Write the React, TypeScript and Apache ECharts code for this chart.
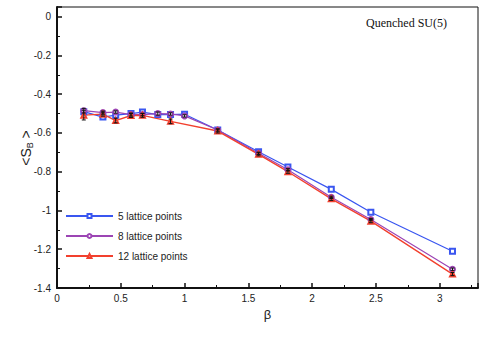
import React, { useEffect, useRef } from "react";
import * as echarts from "echarts";

const beta5 = [0.21, 0.36, 0.46, 0.58, 0.67, 0.79, 0.89, 1.0, 1.26, 1.58, 1.81, 2.15, 2.46, 3.1];
const s5 = [-0.49, -0.518, -0.508, -0.5, -0.492, -0.505, -0.505, -0.503, -0.585, -0.697, -0.776, -0.891, -1.009, -1.21];

const beta8 = [0.21, 0.36, 0.46, 0.58, 0.67, 0.79, 0.89, 1.0, 1.26, 1.58, 1.81, 2.15, 2.46, 3.1];
const s8 = [-0.485, -0.495, -0.492, -0.505, -0.505, -0.5, -0.502, -0.512, -0.585, -0.705, -0.79, -0.932, -1.047, -1.303];
const err8 = [0.012, 0.008, 0.006, 0.008, 0.006, 0.008, 0.006, 0.006, 0.006, 0.006, 0.006, 0.006, 0.006, 0.006];

const beta12 = [0.21, 0.36, 0.46, 0.58, 0.67, 0.89, 1.26, 1.58, 1.81, 2.15, 2.46, 3.1];
const s12 = [-0.508, -0.503, -0.536, -0.51, -0.509, -0.54, -0.59, -0.71, -0.8, -0.94, -1.055, -1.328];
const err12 = [0.025, 0.01, 0.012, 0.01, 0.01, 0.012, 0.01, 0.008, 0.008, 0.008, 0.008, 0.008];

const seriesNames = ["5 lattice points", "8 lattice points", "12 lattice points"];
const xTicks = { min: 0, max: 3.3, interval: 0.5 };
const yTicks = { min: -1.4, max: 0.05, interval: 0.2 };

const pairs = (xs: number[], ys: number[]) => xs.map((x, i) => [x, ys[i]]);
const errs = (xs: number[], ys: number[], es: number[]) =>
  xs.map((x, i) => [x, ys[i] - es[i], ys[i] + es[i]]);

const errorRender = (params: any, api: any) => {
  const x = api.value(0);
  const lo = api.coord([x, api.value(1)]);
  const hi = api.coord([x, api.value(2)]);
  const w = 2;
  const style = { stroke: "#111", lineWidth: 1 };
  return {
    type: "group",
    children: [
      { type: "line", shape: { x1: lo[0], y1: lo[1], x2: hi[0], y2: hi[1] }, style },
      { type: "line", shape: { x1: lo[0] - w, y1: lo[1], x2: lo[0] + w, y2: lo[1] }, style },
      { type: "line", shape: { x1: hi[0] - w, y1: hi[1], x2: hi[0] + w, y2: hi[1] }, style },
    ],
  };
};

export default function App() {
  const ref = useRef<HTMLDivElement>(null);
  useEffect(() => {
    if (!ref.current) return;
    const chart = echarts.init(ref.current, null, { renderer: "svg" });
    const font = "Liberation Sans";
    chart.setOption({
      animation: false,
      backgroundColor: "#fff",
      textStyle: { fontFamily: font },
      title: {
        text: "Quenched SU(5)",
        right: 33,
        top: 12,
        textStyle: { fontFamily: "Liberation Serif", fontSize: 12, fontWeight: "normal", color: "#111" },
      },
      graphic: [
        {
          type: "text",
          x: 26,
          y: 148,
          rotation: Math.PI / 2,
          style: {
            text: "<S{sub|B} >",
            fontFamily: font,
            fontSize: 14,
            fill: "#222",
            align: "center",
            verticalAlign: "middle",
            rich: { sub: { fontFamily: font, fontSize: 9, fill: "#222", padding: [7, 0, 0, 0] } },
          },
        },
      ],
      legend: {
        orient: "vertical",
        left: 60,
        top: 206,
        itemWidth: 47,
        itemHeight: 5,
        itemGap: 10,
        textStyle: { fontFamily: font, fontSize: 10, color: "#222" },
        data: seriesNames,
      },
      grid: {
        left: 57,
        right: 7,
        top: 7,
        bottom: 58,
        show: true,
        borderColor: "#111",
        borderWidth: 1,
      },
      xAxis: {
        type: "value",
        min: xTicks.min,
        max: xTicks.max,
        interval: xTicks.interval,
        name: "β",
        nameLocation: "middle",
        nameGap: 18,
        nameTextStyle: { fontFamily: font, fontSize: 13, color: "#222" },
        axisLine: { onZero: false, lineStyle: { color: "#111", width: 2 } },
        axisTick: { inside: true, length: 5, lineStyle: { color: "#111", width: 1.5 } },
        minorTick: { show: true, splitNumber: 2, length: 3, lineStyle: { color: "#111" } },
        splitLine: { show: false },
        axisLabel: { showMaxLabel: false, fontSize: 10, color: "#222", margin: 5 },
      },
      yAxis: {
        type: "value",
        min: yTicks.min,
        max: yTicks.max,
        interval: yTicks.interval,
        axisLine: { onZero: false, lineStyle: { color: "#111", width: 2 } },
        axisTick: { inside: true, length: 5, lineStyle: { color: "#111", width: 1.5 } },
        minorTick: { show: true, splitNumber: 2, length: 3, lineStyle: { color: "#111" } },
        splitLine: { show: false },
        axisLabel: { showMaxLabel: false, fontSize: 10, color: "#222", margin: 6 },
      },
      series: [
        {
          name: seriesNames[0],
          type: "line",
          data: pairs(beta5, s5),
          symbol: "emptyRect",
          symbolSize: 5,
          color: "#3a56f0",
          lineStyle: { width: 1.2 },
          z: 3,
        },
        {
          name: seriesNames[1],
          type: "line",
          data: pairs(beta8, s8),
          symbol: "emptyCircle",
          symbolSize: 5,
          color: "#9c45b4",
          lineStyle: { width: 1.2 },
          z: 3,
        },
        {
          name: seriesNames[2],
          type: "line",
          data: pairs(beta12, s12),
          symbol: "emptyTriangle",
          symbolSize: 5,
          color: "#f2402e",
          lineStyle: { width: 1.4 },
          z: 3,
        },
        {
          type: "custom",
          renderItem: errorRender,
          data: errs(beta8, s8, err8),
          encode: { x: 0, y: [1, 2] },
          z: 4,
          silent: true,
        },
        {
          type: "custom",
          renderItem: errorRender,
          data: errs(beta12, s12, err12),
          encode: { x: 0, y: [1, 2] },
          z: 4,
          silent: true,
        },
      ],
    });
    return () => chart.dispose();
  }, []);
  return <div ref={ref} style={{ width: 485, height: 346, position: "absolute", left: 0, top: 0 }} />;
}
